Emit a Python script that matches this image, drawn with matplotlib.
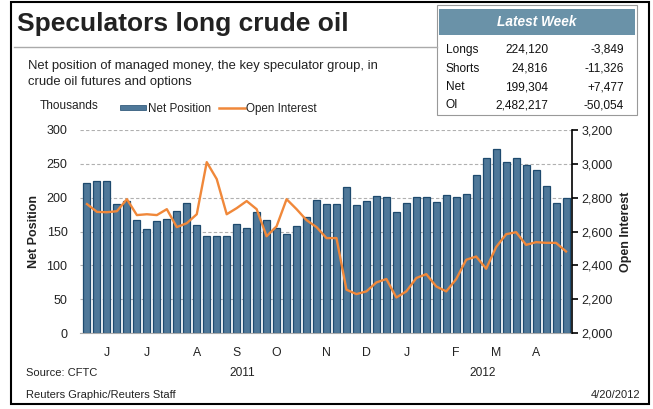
import matplotlib.pyplot as plt
import numpy as np
from matplotlib.patches import Rectangle
from matplotlib.lines import Line2D

# weekly net position of managed money (thousands of contracts)
net_position = [
    221, 225, 224, 190, 195, 167, 153, 165, 168, 181,
    192, 159, 143, 143, 143, 161, 155, 179, 167, 155,
    146, 158, 171, 196, 190, 190, 216, 189, 195, 202,
    201, 179, 192, 201, 201, 194, 204, 201, 206, 234,
    259, 272, 253, 259, 248, 241, 217, 192, 199,
]
# open interest (thousands of contracts)
open_interest = [
    2762, 2716, 2714, 2720, 2791, 2697, 2702, 2697, 2732, 2626,
    2649, 2702, 3010, 2910, 2702, 2738, 2780, 2732, 2572, 2631,
    2791, 2732, 2667, 2626, 2561, 2561, 2256, 2230, 2246, 2299,
    2319, 2210, 2246, 2325, 2348, 2275, 2246, 2319, 2433, 2452,
    2380, 2508, 2584, 2596, 2521, 2537, 2533, 2533, 2482,
]
month_pos = [2, 6, 11, 15, 19, 24, 28, 32, 37, 41, 45]
month_labels = ["J", "J", "A", "S", "O", "N", "D", "J", "F", "M", "A"]
years = ["2011", "2012"]

table_rows = ["Longs", "Shorts", "Net", "OI"]
table_values = ["224,120", "24,816", "199,304", "2,482,217"]
table_changes = ["-3,849", "-11,326", "+7,477", "-50,054"]

bar_face = "#4f7899"
bar_edge = "#1e4a6e"
orange = "#f0883a"
header = "#6a92a8"
ink = "#222222"

plt.rcParams["font.family"] = ["Liberation Sans", "DejaVu Sans"]

W, H = 653, 409
fig = plt.figure(figsize=(W / 100, H / 100), dpi=100)


def fx(px):
    return px / W


def fy(py):
    return 1 - py / H


# outer frame
fig.patches.append(Rectangle((fx(11), fy(404)), fx(638), (403 - 1) / H,
                             transform=fig.transFigure, fill=False,
                             edgecolor="black", linewidth=1.5))

fig.text(fx(17), fy(24), "Speculators long crude oil", fontsize=19,
         fontweight="bold", color=ink, va="center")
fig.add_artist(Line2D([fx(14), fx(437)], [fy(47), fy(47)],
                      transform=fig.transFigure, color="#aaaaaa", linewidth=1))
fig.text(fx(28), fy(66), "Net position of managed money, the key speculator group, in",
         fontsize=9.4, va="center", color=ink)
fig.text(fx(28), fy(82), "crude oil futures and options",
         fontsize=9.4, va="center", color=ink)
fig.text(fx(40), fy(106), "Thousands", fontsize=8.6, va="center", color=ink)

# legend
fig.patches.append(Rectangle((fx(120), fy(110)), fx(26), 5 / H,
                             transform=fig.transFigure, facecolor=bar_face,
                             edgecolor=bar_edge, linewidth=0.5))
fig.text(fx(148), fy(109), "Net Position", fontsize=8.4, va="center", color=ink)
fig.add_artist(Line2D([fx(219), fx(245)], [fy(108), fy(108)],
                      transform=fig.transFigure, color=orange, linewidth=1.8))
fig.text(fx(246), fy(109), "Open Interest", fontsize=8.4, va="center", color=ink)

# latest week table
fig.patches.append(Rectangle((fx(437), fy(115)), fx(200), 110 / H,
                             transform=fig.transFigure, facecolor="white",
                             edgecolor="#999999", linewidth=0.8))
fig.patches.append(Rectangle((fx(439), fy(35)), fx(196), 26 / H,
                             transform=fig.transFigure, facecolor=header,
                             edgecolor="none"))
fig.text(fx(537), fy(22), "Latest Week", fontsize=9.8, fontweight="bold",
         fontstyle="italic", color="white", ha="center", va="center")
for i, (name, val, chg) in enumerate(zip(table_rows, table_values, table_changes)):
    y = fy(50 + i * 18.5)
    fig.text(fx(446), y, name, fontsize=8.6, va="center", color="#111111")
    fig.text(fx(548), y, val, fontsize=8.6, va="center", ha="right", color="#111111")
    fig.text(fx(624), y, chg, fontsize=8.6, va="center", ha="right", color="#111111")

# main chart
ax = fig.add_axes([fx(80), fy(333), fx(572 - 80), (333 - 130) / H])
x = np.arange(len(net_position))
ax.bar(x, net_position, width=0.7, color=bar_face, edgecolor=bar_edge,
       linewidth=0.9, zorder=2)
ax.set_xlim(-0.7, len(net_position) - 0.4)
ax.set_ylim(0, 300)
ax.set_yticks(range(0, 301, 50))
ax.yaxis.grid(True, linestyle=(0, (3, 2)), color="#b0b0b0", linewidth=0.8, zorder=0)
ax.set_axisbelow(True)
for side in ["top", "right", "left"]:
    ax.spines[side].set_visible(False)
ax.spines["bottom"].set_color("#aaaaaa")
ax.tick_params(axis="y", length=0, labelsize=9, colors=ink, pad=9)
ax.set_xticks(month_pos)
ax.set_xticklabels(month_labels)
ax.tick_params(axis="x", length=0, labelsize=8.8, colors=ink, pad=10)
ax.set_ylabel("Net Position", fontsize=9, fontweight="bold", labelpad=5,
              color=ink)

ax2 = ax.twinx()
ax2.plot(x, open_interest, color=orange, linewidth=1.7, zorder=3)
ax2.set_ylim(2000, 3200)
ax2.set_yticks(range(2000, 3201, 200))
ax2.set_yticklabels([f"{v:,}" for v in range(2000, 3201, 200)])
for side in ["top", "left", "bottom"]:
    ax2.spines[side].set_visible(False)
ax2.spines["right"].set_color("black")
ax2.spines["right"].set_linewidth(1.2)
ax2.tick_params(axis="y", length=4, width=1.2, labelsize=9, labelcolor=ink,
                color="black", pad=3)
ax2.set_ylabel("Open Interest", fontsize=9, fontweight="bold", rotation=90,
               labelpad=5, color=ink)

fig.text(fx(242), fy(373), years[0], fontsize=8.6, ha="center", va="center", color=ink)
fig.text(fx(483), fy(373), years[1], fontsize=8.6, ha="center", va="center", color=ink)
fig.text(fx(26), fy(373), "Source: CFTC", fontsize=8, va="center", color=ink)
fig.text(fx(26), fy(395), "Reuters Graphic/Reuters Staff", fontsize=8, va="center",
         color=ink)
fig.text(fx(640), fy(395), "4/20/2012", fontsize=8, va="center", ha="right",
         color=ink)

fig.savefig("out.png", dpi=100)
